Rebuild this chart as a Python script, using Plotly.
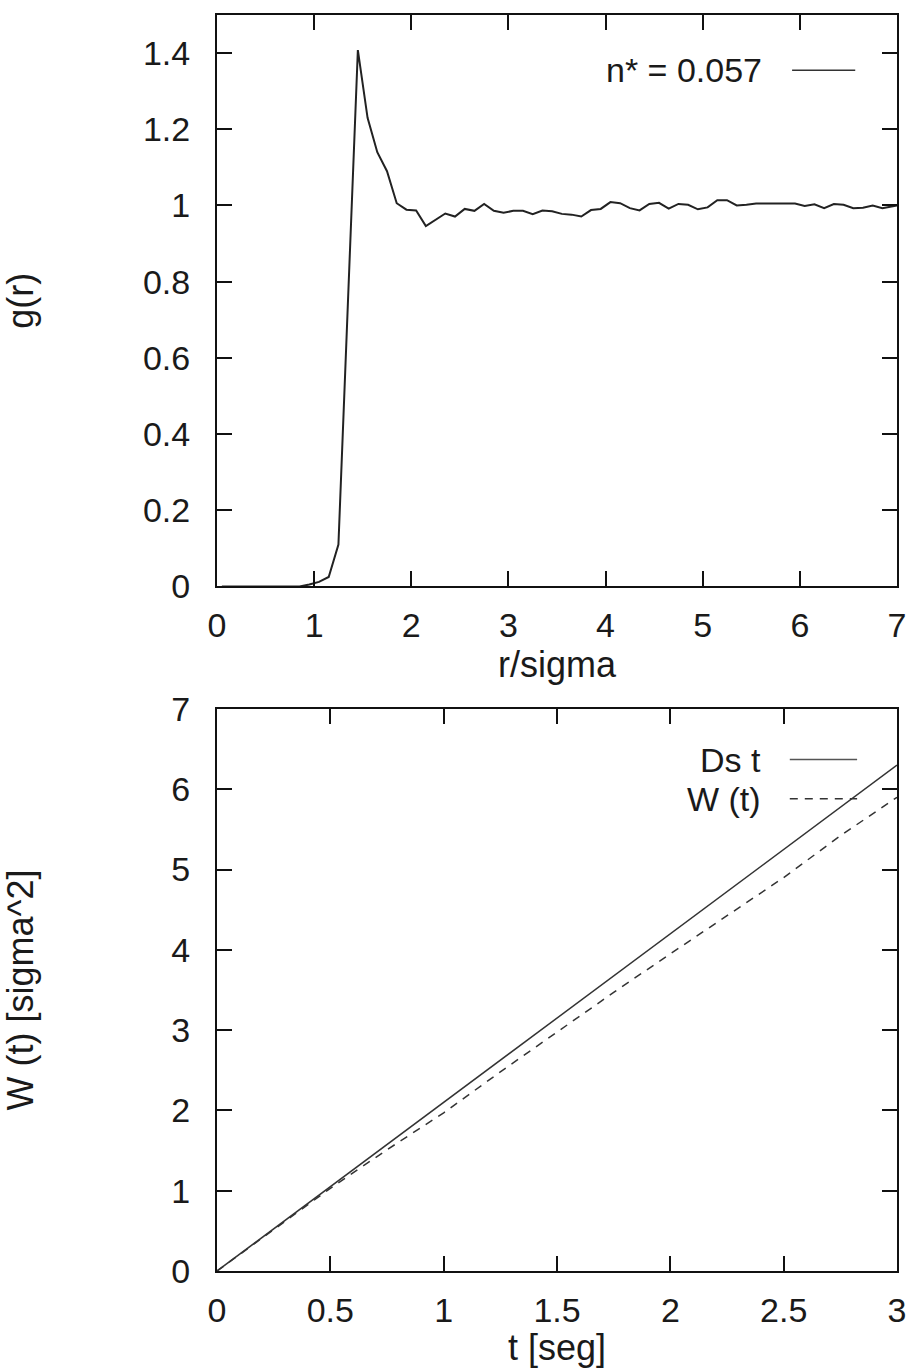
import plotly.graph_objects as go
from plotly.subplots import make_subplots

# ---- top panel: radial distribution function ----
r_sigma = [0.05, 0.15, 0.25, 0.35, 0.45, 0.55, 0.65, 0.75, 0.85, 0.95,
           1.05, 1.15, 1.25, 1.35, 1.45, 1.55, 1.65, 1.75, 1.85, 1.95,
           2.05, 2.15, 2.25, 2.35, 2.45, 2.55, 2.65, 2.75, 2.85, 2.95,
           3.05, 3.15, 3.25, 3.35, 3.45, 3.55, 3.65, 3.75, 3.85, 3.95,
           4.05, 4.15, 4.25, 4.35, 4.45, 4.55, 4.65, 4.75, 4.85, 4.95,
           5.05, 5.15, 5.25, 5.35, 5.45, 5.55, 5.65, 5.75, 5.85, 5.95,
           6.05, 6.15, 6.25, 6.35, 6.45, 6.55, 6.65, 6.75, 6.85, 6.95, 7.0]
g_r = [0, 0, 0, 0, 0, 0, 0, 0, 0, 0.005,
       0.012, 0.025, 0.11, 0.76, 1.408, 1.23, 1.14, 1.09, 1.006, 0.989,
       0.987, 0.946, 0.962, 0.979, 0.971, 0.991, 0.986, 1.004, 0.986, 0.981,
       0.986, 0.986, 0.977, 0.987, 0.985, 0.978, 0.976, 0.971, 0.988, 0.991,
       1.009, 1.006, 0.993, 0.987, 1.004, 1.007, 0.992, 1.004, 1.002, 0.990,
       0.995, 1.014, 1.014, 1.000, 1.002, 1.005, 1.005, 1.005, 1.005, 1.005,
       0.999, 1.003, 0.993, 1.004, 1.002, 0.993, 0.994, 1.000, 0.993, 0.997, 1.0]
top_label = "n* = 0.057"

# ---- bottom panel: mean square displacement ----
t_seg = [0, 0.25, 0.5, 0.75, 1.0, 1.25, 1.5, 1.75, 2.0, 2.25, 2.5, 2.75, 3.0]
ds_t = [0, 0.525, 1.05, 1.575, 2.1, 2.625, 3.15, 3.675, 4.2, 4.725, 5.25, 5.775, 6.3]
w_t = [0, 0.52, 1.03, 1.51, 1.97, 2.48, 2.98, 3.47, 3.95, 4.42, 4.90, 5.42, 5.90]
labels_bottom = ["Ds t", "W (t)"]

FONT = "Liberation Sans, Arial, sans-serif"
FS = 34
INK = "#1a1a1a"

fig = make_subplots(rows=2, cols=1, vertical_spacing=0.05)

fig.add_trace(go.Scatter(x=r_sigma, y=g_r, mode="lines", name=top_label,
                         line=dict(color="#222222", width=2), showlegend=False),
              row=1, col=1)
fig.add_trace(go.Scatter(x=t_seg, y=ds_t, mode="lines", name=labels_bottom[0],
                         line=dict(color="#333333", width=1.5), showlegend=False),
              row=2, col=1)
fig.add_trace(go.Scatter(x=t_seg, y=w_t, mode="lines", name=labels_bottom[1],
                         line=dict(color="#333333", width=1.5, dash="8px,7px"),
                         showlegend=False),
              row=2, col=1)

axis_common = dict(showline=True, linecolor="#111111", linewidth=2, mirror="ticks",
                   ticks="inside", ticklen=15, tickwidth=1.6, tickcolor="#111111",
                   showgrid=False, zeroline=False, automargin=False,
                   tickfont=dict(family=FONT, size=FS, color=INK))

fig.update_xaxes(**axis_common)
fig.update_yaxes(**axis_common)

fig.update_xaxes(range=[0, 7], dtick=1, tick0=0, domain=[0, 1], ticklabelstandoff=8,
                 title=dict(text="r/sigma", font=dict(family=FONT, size=FS + 2, color=INK), standoff=0),
                 row=1, col=1)
fig.update_yaxes(range=[0, 1.5], dtick=0.2, tick0=0, domain=[0.545, 1], ticklabelstandoff=18,
                 title=dict(text="g(r)", font=dict(family=FONT, size=FS + 2, color=INK), standoff=100),
                 row=1, col=1)
fig.update_xaxes(range=[0, 3], dtick=0.5, tick0=0, ticklabelstandoff=8,
                 title=dict(text="t [seg]", font=dict(family=FONT, size=FS + 2, color=INK), standoff=0),
                 row=2, col=1)
fig.update_yaxes(range=[0, 7], dtick=1, tick0=0, domain=[0, 0.4475], ticklabelstandoff=18,
                 title=dict(text="W (t) [sigma^2]", font=dict(family=FONT, size=FS + 2, color=INK), standoff=134),
                 row=2, col=1)

# key (gnuplot style: label then sample line on its right)
fig.add_annotation(x=5.63, y=1.355, xref="x", yref="y", text=top_label, showarrow=False,
                   xanchor="right", yanchor="middle", font=dict(family=FONT, size=FS, color=INK))
fig.add_shape(type="line", x0=5.92, x1=6.57, y0=1.355, y1=1.355, xref="x", yref="y",
              line=dict(color="#333333", width=1.5))

fig.add_annotation(x=2.41, y=6.37, xref="x2", yref="y2", text=labels_bottom[0], showarrow=False,
                   xanchor="right", yanchor="middle", font=dict(family=FONT, size=FS, color=INK))
fig.add_shape(type="line", x0=2.527, x1=2.824, y0=6.37, y1=6.37, xref="x2", yref="y2",
              line=dict(color="#555555", width=1.5))
fig.add_annotation(x=2.41, y=5.88, xref="x2", yref="y2", text=labels_bottom[1], showarrow=False,
                   xanchor="right", yanchor="middle", font=dict(family=FONT, size=FS, color=INK))
fig.add_shape(type="line", x0=2.527, x1=2.824, y0=5.88, y1=5.88, xref="x2", yref="y2",
              line=dict(color="#333333", width=1.5, dash="8px,7px"))

fig.update_layout(width=911, height=1368, margin=dict(l=217, r=14, t=15, b=97),
                  paper_bgcolor="white", plot_bgcolor="white", showlegend=False)

fig.write_html("out.html")
